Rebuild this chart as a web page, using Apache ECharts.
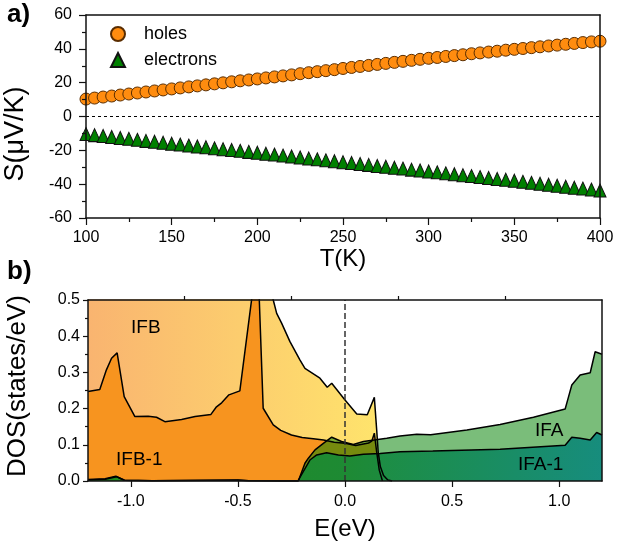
<!DOCTYPE html>
<html>
<head>
<meta charset="utf-8">
<script src="https://cdn.jsdelivr.net/npm/echarts@6/dist/echarts.min.js"></script>
<style>
  html, body { margin: 0; padding: 0; background: #fff; }
  #chart { width: 629px; height: 546px; }
</style>
</head>
<body>
<div id="chart"></div>
<script>
// panel a) Seebeck coefficient vs temperature
const temps = [100, 105, 110, 115, 120, 125, 130, 135, 140, 145, 150, 155, 160, 165, 170, 175, 180, 185, 190, 195,
  200, 205, 210, 215, 220, 225, 230, 235, 240, 245, 250, 255, 260, 265, 270, 275, 280, 285, 290, 295,
  300, 305, 310, 315, 320, 325, 330, 335, 340, 345, 350, 355, 360, 365, 370, 375, 380, 385, 390, 395, 400]
const holes = [10.3, 10.9, 11.5, 12.1, 12.7, 13.3, 13.9, 14.5, 15.1, 15.7, 16.3, 16.9, 17.5, 18.1, 18.7, 19.3, 19.9, 20.5, 21.1, 21.6,
  22.2, 22.8, 23.4, 24.0, 24.6, 25.3, 25.9, 26.5, 27.1, 27.7, 28.4, 29.0, 29.6, 30.2, 30.8, 31.4, 32.0, 32.6, 33.2, 33.8,
  34.4, 34.9, 35.5, 36.0, 36.5, 37.1, 37.6, 38.1, 38.6, 39.2, 39.7, 40.2, 40.7, 41.2, 41.7, 42.2, 42.7, 43.2, 43.7, 44.1, 44.5]
const electrons = [-10.4, -11.0, -11.5, -12.1, -12.7, -13.2, -13.8, -14.4, -14.9, -15.5, -16.1, -16.6, -17.2, -17.7, -18.2, -18.8, -19.3, -19.8, -20.3, -20.9,
  -21.4, -22.0, -22.5, -23.1, -23.6, -24.2, -24.8, -25.3, -25.9, -26.4, -27.0, -27.5, -28.1, -28.6, -29.2, -29.7, -30.3, -30.8, -31.4, -31.9,
  -32.5, -33.0, -33.6, -34.1, -34.7, -35.2, -35.8, -36.3, -36.9, -37.4, -38.0, -38.6, -39.2, -39.7, -40.3, -40.9, -41.5, -42.1, -42.6, -43.2, -43.8]

// panel b) density of states
const ifbE = [-1.2, -0.8, -0.45, -0.40, -0.36, -0.335, -0.319, -0.296, -0.257, -0.21, -0.187, -0.117, -0.083, -0.062, 0.0, 0.055, 0.104, 0.137, 0.148, 0.155, 0.165, 0.18, 0.2, 0.22]
const ifbDos = [0.9, 0.9, 0.9, 0.7, 0.56, 0.5, 0.463, 0.436, 0.385, 0.334, 0.311, 0.284, 0.259, 0.270, 0.224, 0.185, 0.183, 0.231, 0.141, 0.08, 0.04, 0.015, 0.003, 0.0]

const ifb1E = [-1.2, -1.145, -1.114, -1.09, -1.064, -1.031, -0.981, -0.919, -0.88, -0.841, -0.763, -0.70, -0.626, -0.60, -0.576, -0.542, -0.491, -0.408, -0.382, -0.335, -0.3, -0.25, -0.2, -0.148, -0.1, -0.05, 0.0, 0.05, 0.11, 0.125, 0.137, 0.148, 0.16, 0.175]
const ifb1Dos = [0.247, 0.253, 0.307, 0.339, 0.354, 0.233, 0.178, 0.179, 0.176, 0.164, 0.170, 0.178, 0.184, 0.205, 0.216, 0.238, 0.249, 0.63, 0.201, 0.155, 0.14, 0.127, 0.12, 0.117, 0.113, 0.107, 0.104, 0.098, 0.105, 0.11, 0.132, 0.08, 0.03, 0.0]

const ifaE = [-1.2, -1.12, -1.07, -1.03, -0.9, -0.5, -0.45, -0.3, -0.218, -0.187, -0.171, -0.14, -0.101, -0.062, -0.016, 0.039, 0.086, 0.195, 0.257, 0.335, 0.40, 0.569, 0.724, 0.88, 1.028, 1.044, 1.059, 1.098, 1.145, 1.168, 1.2]
const ifaDos = [0.004, 0.006, 0.013, 0.002, 0.001, 0.003, 0.001, 0.0, 0.0, 0.049, 0.063, 0.086, 0.104, 0.121, 0.109, 0.101, 0.109, 0.118, 0.124, 0.129, 0.128, 0.141, 0.156, 0.176, 0.199, 0.233, 0.265, 0.293, 0.299, 0.357, 0.350]

const ifa1E = [-1.2, -1.12, -1.067, -1.03, -0.9, -0.5, -0.45, -0.3, -0.22, -0.164, -0.132, -0.086, -0.031, 0.023, 0.086, 0.164, 0.257, 0.41, 0.724, 1.028, 1.059, 1.098, 1.145, 1.175, 1.2]
const ifa1Dos = [0.003, 0.005, 0.012, 0.002, 0.001, 0.002, 0.001, 0.0, 0.0, 0.058, 0.072, 0.078, 0.072, 0.069, 0.074, 0.076, 0.081, 0.083, 0.088, 0.099, 0.121, 0.118, 0.113, 0.134, 0.127]

const majorE = [-1.0, -0.5, 0.0, 0.5, 1.0]
const minorE = [-0.75, -0.25, 0.25, 0.75]

const FONT = "'Liberation Sans', Arial, sans-serif"

function pairs(xs, ys) {
  return xs.map((x, i) => [x, ys[i]])
}

// plain frame axis (top / right edges of a panel)
function frameX(grid, min, max) {
  return {
    type: 'value', gridIndex: grid, position: 'top', min: min, max: max, z: 10,
    axisLine: { show: true, onZero: false, lineStyle: { color: '#111', width: 1.5 } },
    axisTick: { show: false }, axisLabel: { show: false }, splitLine: { show: false }
  }
}
function frameY(grid, min, max) {
  return {
    type: 'value', gridIndex: grid, position: 'right', min: min, max: max, z: 10,
    axisLine: { show: true, onZero: false, lineStyle: { color: '#111', width: 1.5 } },
    axisTick: { show: false }, axisLabel: { show: false }, splitLine: { show: false }
  }
}

function yTitle(text, x, y, size) {
  return {
    type: 'text', z: 100, x: x, y: y, rotation: Math.PI / 2,
    style: { text: text, font: size + 'px ' + FONT, fill: '#000', align: 'center', verticalAlign: 'middle' }
  }
}

const axisLine = { show: true, onZero: false, lineStyle: { color: '#111', width: 1.5 } }
const tickLabel = { color: '#000', fontSize: 16, fontFamily: FONT }
const xNameStyle = { color: '#000', fontSize: 24, fontFamily: FONT }

const option = {
  animation: false,
  backgroundColor: '#fff',
  grid: [
    { left: 86, top: 15, width: 514, height: 203, outerBoundsMode: 'none' },
    { left: 88, top: 300, width: 514, height: 181, outerBoundsMode: 'none' }
  ],
  legend: {
    data: ['holes', 'electrons'],
    orient: 'vertical',
    left: 105,
    top: 20,
    itemWidth: 14,
    itemHeight: 14,
    itemGap: 8,
    textStyle: { color: '#000', fontSize: 18, fontFamily: FONT, padding: [0, 0, 0, 14] }
  },
  graphic: [
    { type: 'text', z: 100, left: 7, top: 2, style: { text: 'a)', font: 'bold 26px ' + FONT, fill: '#000' } },
    { type: 'text', z: 100, left: 7, top: 259, style: { text: 'b)', font: 'bold 26px ' + FONT, fill: '#000' } },
    yTitle('S(\u03bcV/K)', 16, 134, 27),
    yTitle('DOS(states/eV)', 18, 386, 26),
    { type: 'text', z: 100, left: 131, top: 318, style: { text: 'IFB', font: '19px ' + FONT, fill: '#000' } },
    { type: 'text', z: 100, left: 116, top: 450, style: { text: 'IFB-1', font: '19px ' + FONT, fill: '#000' } },
    { type: 'text', z: 100, left: 535, top: 421, style: { text: 'IFA', font: '19px ' + FONT, fill: '#000' } },
    { type: 'text', z: 100, left: 518, top: 455, style: { text: 'IFA-1', font: '19px ' + FONT, fill: '#000' } }
  ],
  xAxis: [
    {
      type: 'value', gridIndex: 0, min: 100, max: 400, interval: 50, z: 10,
      name: 'T(K)', nameLocation: 'middle', nameGap: 29, nameTextStyle: xNameStyle,
      axisLine: axisLine,
      axisTick: { show: true, length: 7, lineStyle: { color: '#111', width: 1.2 } },
      minorTick: { show: true, splitNumber: 2, length: 4, lineStyle: { color: '#111', width: 1.2 } },
      axisLabel: Object.assign({ margin: 12 }, tickLabel),
      splitLine: { show: false }
    },
    frameX(0, 100, 400),
    {
      type: 'value', gridIndex: 1, min: -1.2, max: 1.2, z: 10,
      name: 'E(eV)', nameLocation: 'middle', nameGap: 36, nameTextStyle: xNameStyle,
      axisLine: axisLine,
      axisTick: { show: true, length: 6, customValues: majorE, lineStyle: { color: '#111', width: 1.2 } },
      axisLabel: Object.assign({ margin: 13, customValues: majorE, formatter: v => v.toFixed(1) }, tickLabel),
      splitLine: { show: false }
    },
    {
      type: 'value', gridIndex: 1, min: -1.2, max: 1.2, z: 10,
      axisLine: { show: false, onZero: false },
      axisTick: { show: true, length: 4, customValues: minorE, lineStyle: { color: '#111', width: 1.2 } },
      axisLabel: { show: false, customValues: minorE },
      splitLine: { show: false }
    },
    frameX(1, -1.2, 1.2)
  ],
  yAxis: [
    {
      type: 'value', gridIndex: 0, min: -60, max: 60, interval: 20, z: 10,
      axisLine: axisLine,
      axisTick: { show: true, length: 7, lineStyle: { color: '#111', width: 1.2 } },
      minorTick: { show: true, splitNumber: 2, length: 4, lineStyle: { color: '#111', width: 1.2 } },
      axisLabel: Object.assign({ margin: 14 }, tickLabel),
      splitLine: { show: false }
    },
    frameY(0, -60, 60),
    {
      type: 'value', gridIndex: 1, min: 0, max: 0.5, interval: 0.1, z: 10,
      axisLine: axisLine,
      axisTick: { show: true, length: 5, lineStyle: { color: '#111', width: 1.2 } },
      minorTick: { show: true, splitNumber: 2, length: 3, lineStyle: { color: '#111', width: 1.2 } },
      axisLabel: Object.assign({ margin: 8, formatter: v => v.toFixed(1) }, tickLabel),
      splitLine: { show: false }
    },
    frameY(1, 0, 0.5)
  ],
  series: [
    {
      name: 'holes', type: 'scatter', xAxisIndex: 0, yAxisIndex: 0,
      symbol: 'circle', symbolSize: 12,
      itemStyle: { color: '#FF8C0F', borderColor: '#5a2d00', borderWidth: 1, opacity: 1 },
      data: pairs(temps, holes),
      markLine: {
        silent: true, symbol: ['none', 'none'], label: { show: false },
        lineStyle: { color: '#000', width: 1, type: [3, 3] },
        data: [{ yAxis: 0 }]
      }
    },
    {
      name: 'electrons', type: 'scatter', xAxisIndex: 0, yAxisIndex: 0,
      symbol: 'triangle', symbolSize: [12, 13],
      itemStyle: { color: '#008000', borderColor: '#111', borderWidth: 1, opacity: 1 },
      data: pairs(temps, electrons)
    },
    {
      name: 'IFB', type: 'line', xAxisIndex: 2, yAxisIndex: 2,
      showSymbol: false, clip: true,
      lineStyle: { color: '#000', width: 1.5 },
      areaStyle: {
        opacity: 1,
        color: new echarts.graphic.LinearGradient(0, 0, 1, 0, [
          { offset: 0, color: '#F9B470' },
          { offset: 1, color: '#FFE66C' }
        ])
      },
      data: pairs(ifbE, ifbDos)
    },
    {
      name: 'IFB-1', type: 'line', xAxisIndex: 2, yAxisIndex: 2,
      showSymbol: false, clip: true,
      lineStyle: { color: '#000', width: 1.5 },
      areaStyle: { color: '#F7941F', opacity: 1 },
      data: pairs(ifb1E, ifb1Dos)
    },
    {
      name: 'IFA', type: 'line', xAxisIndex: 2, yAxisIndex: 2,
      showSymbol: false, clip: true,
      lineStyle: { color: '#000', width: 1.5 },
      areaStyle: { color: 'rgba(0,128,0,0.52)', opacity: 1 },
      data: pairs(ifaE, ifaDos)
    },
    {
      name: 'IFA-1', type: 'line', xAxisIndex: 2, yAxisIndex: 2,
      showSymbol: false, clip: true,
      lineStyle: { color: '#000', width: 1.5 },
      areaStyle: {
        opacity: 0.93,
        color: new echarts.graphic.LinearGradient(0, 0, 1, 1, [
          { offset: 0, color: '#1c8b1c' },
          { offset: 0.5, color: '#178a36' },
          { offset: 1, color: '#0f897e' }
        ])
      },
      data: pairs(ifa1E, ifa1Dos),
      markLine: {
        silent: true, symbol: ['none', 'none'], label: { show: false },
        lineStyle: { color: '#333', width: 1.5, type: [6, 3] },
        data: [{ xAxis: 0 }]
      }
    }
  ]
}

const chart = echarts.init(document.getElementById('chart'))
chart.setOption(option)
</script>
</body>
</html>
